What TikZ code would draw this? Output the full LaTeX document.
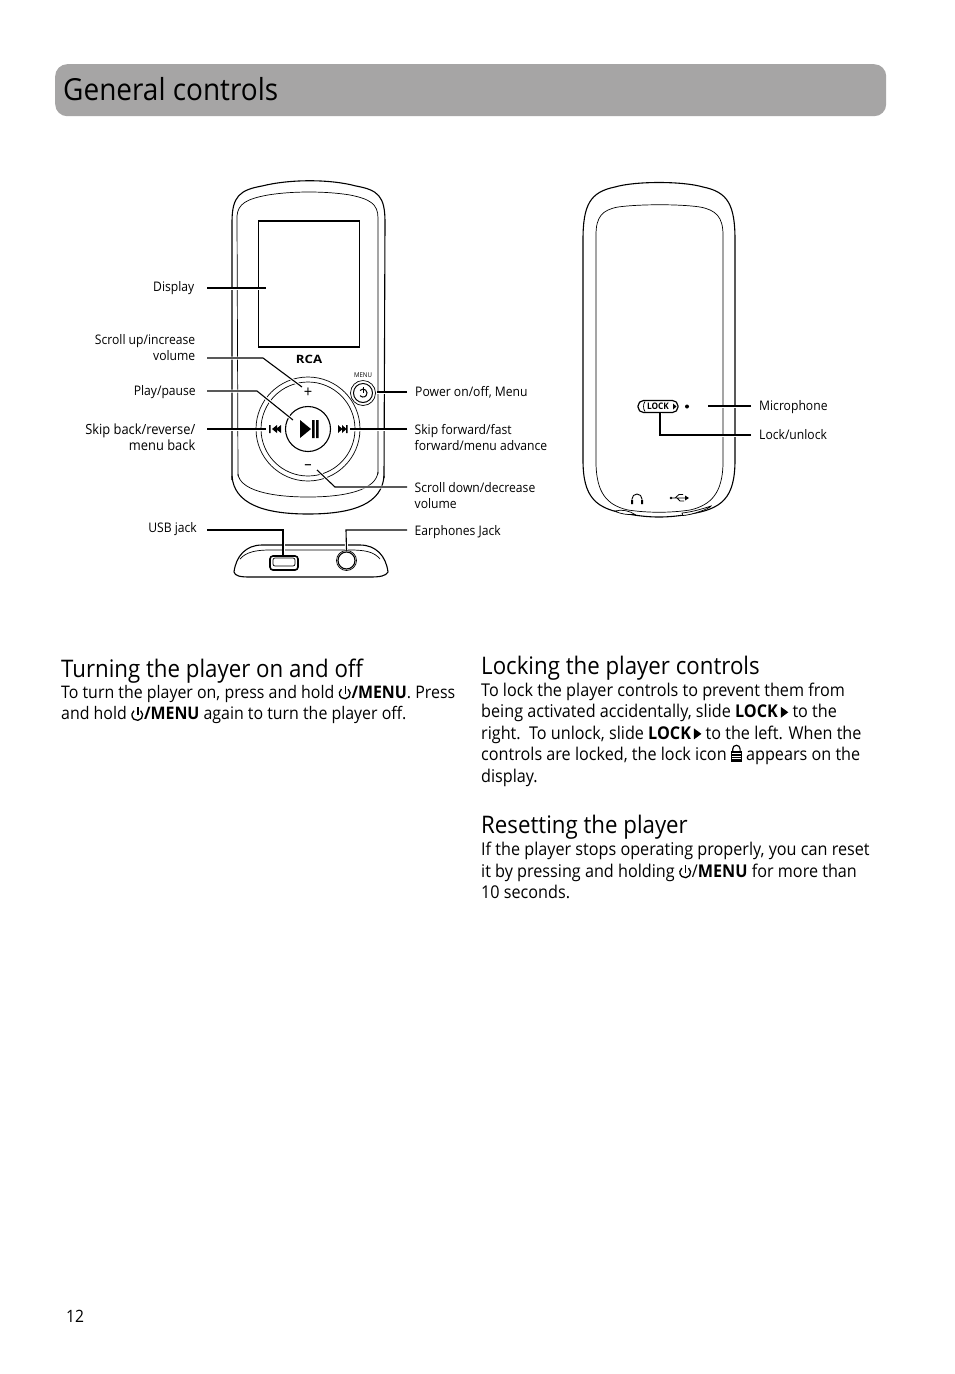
\documentclass[tikz,border=0pt]{standalone}
\usepackage{fontspec}
\setmainfont[FakeStretch=0.92]{Open Sans}
\usepackage{xcolor}
\usetikzlibrary{arrows.meta, positioning}
\definecolor{barGrey}{HTML}{A6A5A5}
\newcommand{\pwricon}{\tikz[baseline=0pt,line width=1.3pt]{\draw (3.9pt,5pt) ++(52:5.4pt) arc (52:-232:5.4pt); \draw (4.5pt,4.5pt) -- (4.5pt,12.5pt);}}
\newcommand{\lockarrow}{\tikz[baseline=0pt]{\fill (0,0) -- (7.5pt,5.5pt) -- (0,11pt) -- cycle;}}
\newcommand{\lockicon}{\tikz[baseline=-3pt]{\fill (0,-4pt) rectangle (11pt,7pt); \draw[line width=1.2pt] (1.8pt,7pt) -- (1.8pt,9pt) arc (180:0:3.7pt) -- (9.2pt,7pt); \draw[white,line width=.8pt] (1pt,4.5pt) -- (10pt,4.5pt) (1pt,2pt) -- (10pt,2pt) (1pt,-.5pt) -- (10pt,-.5pt);}}
\begin{document}
\begin{tikzpicture}[
  x=1pt, y=-1pt,
  outline/.style={line width=1.1pt, line join=round},
  thinline/.style={line width=0.7pt},
  leader/.style={line width=1.1pt, preaction={draw, white, line width=3pt}},
  tag/.style={font=\fontsize{13.2}{16}\selectfont, inner sep=0pt},
  tagL/.style={tag, align=right, anchor=east},
  tagR/.style={tag, align=left, anchor=west},
  heading/.style={font=\fontsize{24.2}{28}\selectfont, inner sep=0pt, anchor=base west},
  para/.style={font=\fontsize{17.6}{21.6}\selectfont, inner sep=0pt, align=left, anchor=north west},
]
\useasboundingbox (0,0) rectangle (954,1374);
\fill[white] (0,0) rectangle (954,1374);

% title bar
\node[fill=barGrey, rounded corners=12pt, minimum width=831pt, minimum height=52pt, anchor=north west, inner sep=0pt] (bar) at (55,64) {};
\node[font=\fontsize{30.4}{36}\selectfont, inner sep=0pt, anchor=base west] (title) at (63,100) {General controls};

% front of the player
\draw[outline] (232,480) -- (232,222) .. controls (232,196) and (240,190) .. (262,186) .. controls (290,179) and (330,179) .. (356,186) .. controls (378,190) and (385,196) .. (385,222) -- (384,478);
\draw[thinline] (238,476) -- (237,216) .. controls (238,204) and (246,199) .. (268,195) .. controls (292,191) and (326,191) .. (350,195) .. controls (370,199) and (378,204) .. (378,218) -- (378,474);
\draw[outline] (232,476) .. controls (234,503) and (262,514) .. (308,514) .. controls (355,514) and (382,503) .. (384,476);
\draw[thinline] (238,474) .. controls (240,490) and (270,497) .. (308,497) .. controls (346,497) and (376,490) .. (378,472);
\node[draw, line width=1.1pt, minimum width=101pt, minimum height=126pt, inner sep=0pt] (screen) at (309,284) {};
\node[font=\fontsize{11.5}{12}\bfseries\selectfont, inner sep=0pt, xscale=1.25] (rca) at (309,359) {RCA};
\node[draw, circle, thinline, minimum size=104pt, inner sep=0pt] (wheelA) at (308,429) {};
\node[draw, circle, thinline, minimum size=94pt, inner sep=0pt] (wheelB) at (308,429) {};
\node[draw, circle, line width=1.1pt, minimum size=45pt, inner sep=0pt] (playbtn) at (308,429) {};
\fill (300,420) -- (311,429) -- (300,438) -- cycle;
\fill (312,420) rectangle (314.5,438) (316,420) rectangle (318.5,438);
\node[inner sep=0pt, font=\fontsize{16}{16}\selectfont] (plus) at (308,393) {+};
\node[inner sep=0pt, font=\fontsize{16}{16}\selectfont] (minus) at (308,467) {–};
\fill (269,425) rectangle (270.5,433) (277,425) -- (277,433) -- (272,429) -- cycle (281,425) -- (281,433) -- (276,429) -- cycle;
\fill (346,425) rectangle (347.5,433) (338,425) -- (338,433) -- (342.5,429) -- cycle (342,425) -- (342,433) -- (346.5,429) -- cycle;
\node[draw, circle, thinline, minimum size=25pt, inner sep=0pt] (pwrA) at (363,393) {};
\node[draw, circle, line width=1pt, minimum size=19pt, inner sep=0pt] (pwrB) at (363,393) {};
\draw[line width=1pt] (360,390.5) arc (140:-140:4pt);
\draw[line width=1pt] (363,387) -- (363,393);
\node[inner sep=0pt, font=\fontsize{6.6}{7}\selectfont] (menu) at (363,375) {MENU};

% bottom edge of the player
\draw[outline] (234,572) .. controls (236,556) and (246,545) .. (262,545) -- (360,545) .. controls (376,545) and (386,556) .. (388,572) .. controls (386,576) and (380,577) .. (370,577) -- (250,577) .. controls (240,577) and (235,576) .. (234,572) -- cycle;
\draw[thinline] (240,559) .. controls (246,552) and (256,550) .. (270,550) -- (350,550) .. controls (366,550) and (374,552) .. (380,559);
\node[draw, fill=white, line width=1.6pt, rounded corners=3pt, minimum width=28pt, minimum height=14pt, inner sep=0pt] (usbport) at (284,563) {};
\node[draw, thinline, rounded corners=2pt, minimum width=22pt, minimum height=8pt, inner sep=0pt] (usbinner) at (284,562) {};
\node[draw, fill=white, circle, thinline, minimum size=20pt, inner sep=0pt] (jack) at (346.5,560.5) {};
\node[draw, circle, line width=1.1pt, minimum size=17pt, inner sep=0pt] (jackin) at (346.5,560.5) {};

% back of the player
\draw[outline] (583,240) .. controls (583,205) and (590,192) .. (615,187) .. controls (635,181) and (683,181) .. (703,187) .. controls (728,192) and (735,205) .. (735,240) -- (735,460) .. controls (735,498) and (722,509) .. (690,514) .. controls (668,518) and (650,518) .. (628,514) .. controls (596,509) and (583,498) .. (583,460) -- cycle;
\draw[thinline] (596,235) .. controls (596,217) and (602,210) .. (618,207) .. controls (640,204) and (680,204) .. (700,207) .. controls (716,210) and (723,217) .. (723,235) -- (723,465) .. controls (722,492) and (712,505) .. (690,510) .. controls (670,513) and (648,513) .. (628,510) .. controls (606,505) and (597,492) .. (596,465) -- cycle;
\draw[thinline, fill=white] (615,511) .. controls (622,509) and (630,511) .. (635,514.5) .. controls (628,515) and (620,514) .. (615,511) -- cycle;
\draw[thinline, fill=white] (682,513) .. controls (692,512) and (702,509) .. (711,506) .. controls (711,508) and (692,515) .. (683,515.5) -- cycle;
\node[draw, line width=1.2pt, rounded corners=5.5pt, minimum width=40pt, minimum height=12pt, inner sep=0pt, font=\fontsize{9}{9}\bfseries\selectfont] (lockswitch) at (658,406.5) {LOCK};
\draw[line width=.7pt] (645,401.5) .. controls (643,404) and (643,409) .. (645,411.5);
\fill (673,403.5) -- (676.5,406.5) -- (673,409.5) -- cycle;
\draw[line width=1.2pt] (644,412.2) -- (672,412.2);
\fill (687,406.5) circle (2pt);
\coordinate (micdot) at (708,406);
\draw[line width=.9pt] (632,504) -- (632,499) arc (180:0:5pt) -- (642,504);
\fill (631,500) rectangle (633,504) (641,500) rectangle (643,504);
\draw[line width=.8pt] (671,498) -- (686,498) (675,498) -- (679,494.5) -- (683,494.5) (677,498) -- (680,501) -- (684,501);
\fill (671,498) circle (1.3pt) (689,498) -- (685,495.5) -- (685,500.5) -- cycle;

% labels
\node[tagL] (lblDisplay) at (194.5,288.5) {Display};
\node[tagL] (lblUp) at (195.5,348) {Scroll up/increase\\volume};
\node[tagL] (lblPlay) at (196,392) {Play/pause};
\node[tagL, font=\fontsize{14}{16}\selectfont] (lblBack) at (195.5,437.5) {Skip back/reverse/\\menu back};
\node[tagL] (lblUsb) at (197,529) {USB jack};
\node[tagR] (lblPower) at (415,392.5) {Power on/off, Menu};
\node[tagR] (lblFwd) at (414.5,437.5) {Skip forward/fast\\forward/menu advance};
\node[tagR] (lblDown) at (414.5,495.5) {Scroll down/decrease\\volume};
\node[tagR] (lblEar) at (414.5,532) {Earphones Jack};
\node[tagR] (lblMic) at (759,407) {Microphone};
\node[tagR] (lblLock) at (759,435) {Lock/unlock};

% leaders
\coordinate (dspA) at (207,288);
\coordinate (dspB) at (266,288);
\draw[leader] (dspA) -- (dspB);
\coordinate (upA) at (207,358);
\coordinate (upB) at (263,358);
\coordinate (upC) at (302,387);
\draw[leader] (upA) -- (upB) -- (upC);
\coordinate (plA) at (207,391);
\coordinate (plB) at (257,391);
\coordinate (plC) at (293,420);
\draw[leader] (plA) -- (plB) -- (plC);
\coordinate (bkA) at (207,429);
\coordinate (bkB) at (266,429);
\draw[leader] (bkA) -- (bkB);
\coordinate (fwA) at (407,429);
\coordinate (fwB) at (350,429);
\draw[leader] (fwA) -- (fwB);
\coordinate (pwA) at (407,392);
\coordinate (pwB) at (377,392);
\draw[leader] (pwA) -- (pwB);
\coordinate (dnA) at (407,487);
\coordinate (dnB) at (335,487);
\coordinate (dnC) at (317,470);
\draw[leader] (dnA) -- (dnB) -- (dnC);
\coordinate (usA) at (207,530);
\coordinate (usB) at (283,530);
\draw[leader] (usA) -- (usB) -- (usbport.north -| usB);
\coordinate (erA) at (407,530);
\coordinate (erB) at (346,530);
\draw[leader] (erA) -- (erB) -- (jack.north);
\coordinate (micA) at (751,406);
\draw[leader] (micA) -- (micdot);
\coordinate (lkA) at (751,435);
\coordinate (lkB) at (660,435);
\draw[leader] (lkA) -- (lkB) -- (lkB |- lockswitch.south);

% text columns
\node[heading] (headOn) at (61,677) {Turning the player on and off};
\node[para, font=\fontsize{17.3}{21.6}\selectfont] (textOn) at (61,685) {To turn the player on, press and hold \pwricon\textbf{/MENU}. Press\\and hold \pwricon\textbf{/MENU} again to turn the player off.};
\node[heading] (headLock) at (481,674) {Locking the player controls};
\node[para] (textLock) at (481,682.5) {To lock the player controls to prevent them from\\being activated accidentally, slide \textbf{LOCK}\,\lockarrow\ to the\\right.\ \ To unlock, slide \textbf{LOCK}\,\lockarrow\ to the left. When the\\controls are locked, the lock icon \lockicon\ appears on the\\display.};
\node[heading] (headReset) at (481,833) {Resetting the player};
\node[para] (textReset) at (481,842) {If the player stops operating properly, you can reset\\it by pressing and holding \pwricon/\textbf{MENU} for more than\\10 seconds.};
\node[inner sep=0pt, font=\fontsize{17}{20}\selectfont, anchor=base west] (pageno) at (66,1322) {12};
\end{tikzpicture}
\end{document}
